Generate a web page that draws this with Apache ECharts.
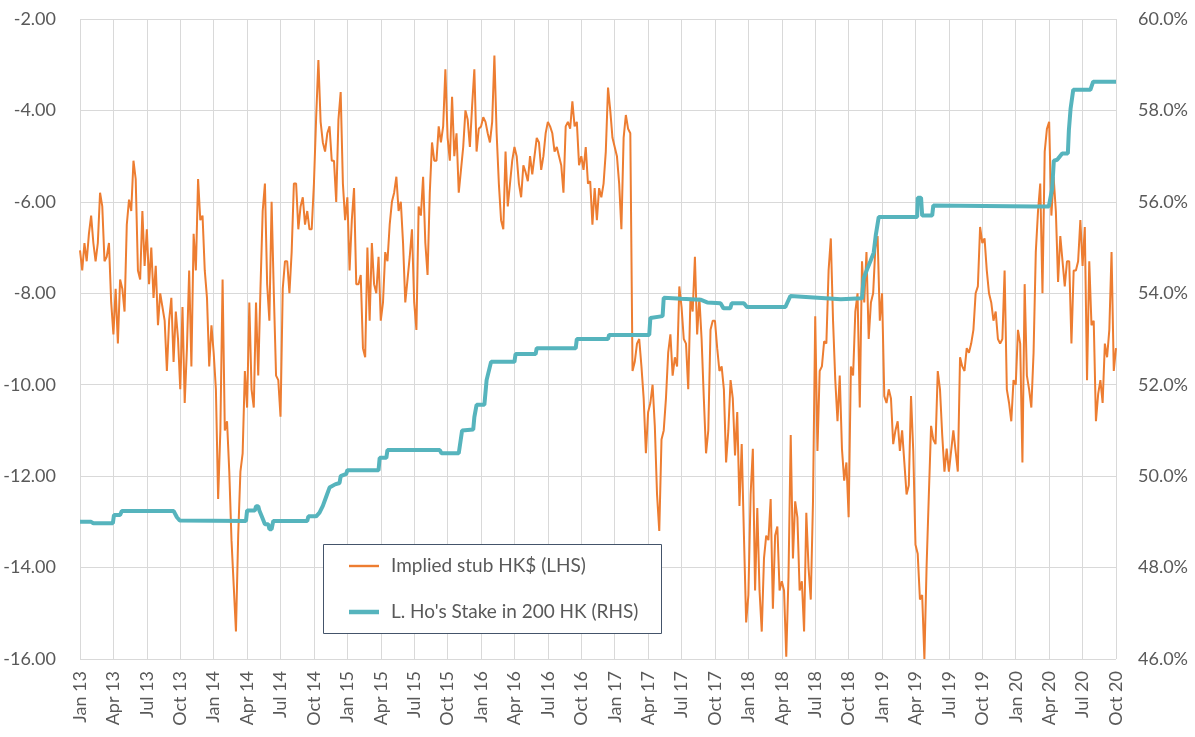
<!DOCTYPE html>
<html>
<head>
<meta charset="utf-8">
<script src="https://cdn.jsdelivr.net/npm/echarts@6/dist/echarts.min.js"></script>
<style>
html,body{margin:0;padding:0;background:#fff;}
#chart{width:1195px;height:737px;}
</style>
</head>
<body>
<div id="chart"></div>
<script>
// Month index 0 = Jan 2013; axis runs to month 93 = Oct 2020
var monthNames = ['Jan', 'Apr', 'Jul', 'Oct'];
var axisStartYear = 13;

// Implied stub HK$ (LHS), one reading every 0.2 month starting Jan 13
var stubStepMonths = 0.2;
var stubValues = [
-7.06,-7.5,-6.9,-7.3,-6.7,-6.3,-6.9,-7.3,-6.9,-5.8,-6.1,-7.3,-7.2,-6.9,-8.2,-8.9,-7.9,-9.1,-7.7,-7.9,
-8.4,-6.5,-5.95,-6.2,-5.1,-5.5,-7.5,-7.7,-6.2,-7.4,-6.6,-7.8,-7.0,-8.1,-7.4,-8.7,-8.0,-8.3,-8.6,-9.7,
-8.6,-8.1,-9.5,-8.4,-9.0,-10.1,-8.3,-10.4,-9.2,-7.5,-9.6,-6.7,-7.5,-5.5,-6.4,-6.3,-7.5,-8.1,-9.6,-8.7,
-9.3,-10.1,-12.5,-11.0,-7.7,-11.0,-10.8,-11.9,-13.4,-14.4,-15.4,-13.3,-11.9,-11.5,-9.7,-10.5,-8.2,-10.1,-10.5,-8.2,
-9.8,-7.9,-6.2,-5.6,-7.8,-8.6,-6.0,-8.0,-9.8,-9.9,-10.7,-7.9,-7.3,-7.3,-8.0,-7.1,-5.6,-5.6,-6.6,-6.1,
-5.9,-6.5,-6.2,-6.6,-6.6,-5.6,-4.15,-2.9,-4.25,-4.7,-4.9,-4.5,-4.35,-5.1,-5.1,-6.0,-4.2,-3.6,-5.6,-6.4,
-5.9,-7.5,-6.4,-5.7,-7.8,-7.8,-7.6,-9.2,-9.4,-7.0,-8.6,-6.9,-7.8,-8.0,-7.2,-8.6,-8.2,-7.1,-7.3,-6.5,
-6.0,-5.8,-5.45,-6.2,-6.0,-6.9,-8.2,-7.7,-7.2,-6.6,-8.2,-8.8,-6.1,-6.3,-5.45,-6.9,-7.6,-5.8,-4.7,-5.1,
-5.1,-4.35,-4.7,-4.35,-3.1,-4.6,-5.1,-3.7,-5.0,-4.5,-5.8,-5.3,-4.8,-4.0,-4.2,-4.8,-3.9,-3.1,-4.9,-4.4,
-4.35,-4.15,-4.25,-4.5,-4.7,-4.25,-2.8,-4.5,-5.6,-6.4,-6.6,-4.9,-6.1,-5.6,-5.1,-4.8,-5.0,-5.6,-5.9,-5.2,
-5.35,-5.55,-5.0,-5.4,-5.0,-4.6,-4.7,-5.3,-5.0,-4.5,-4.25,-4.35,-4.5,-4.9,-4.8,-5.0,-5.2,-5.8,-4.35,-4.25,
-4.4,-3.8,-4.35,-4.25,-5.2,-5.0,-5.3,-4.8,-5.6,-5.55,-6.5,-5.7,-6.4,-5.7,-5.9,-5.6,-4.9,-3.5,-4.0,-4.6,
-4.8,-5.0,-5.6,-6.6,-4.6,-4.1,-4.4,-4.5,-9.7,-9.5,-9.1,-9.0,-9.6,-10.3,-11.5,-10.6,-10.4,-10.0,-10.9,-12.4,
-13.2,-11.2,-11.0,-10.3,-9.3,-8.9,-9.8,-9.4,-9.6,-7.85,-8.3,-9.0,-9.1,-10.1,-8.1,-8.4,-7.2,-8.9,-8.1,-9.0,
-10.3,-11.5,-11.0,-8.8,-8.6,-8.6,-9.2,-9.7,-9.6,-10.1,-11.7,-11.0,-9.9,-10.3,-11.55,-10.6,-12.65,-11.3,-13.3,-15.2,
-14.6,-12.4,-11.4,-14.5,-12.7,-14.5,-15.4,-13.8,-13.3,-13.4,-12.5,-14.9,-13.3,-13.1,-14.5,-14.3,-14.5,-15.95,-14.2,-11.1,
-13.8,-12.55,-12.9,-14.5,-14.3,-15.4,-12.8,-14.0,-14.7,-12.55,-8.5,-11.45,-9.7,-9.6,-9.05,-9.1,-7.5,-6.8,-8.6,-9.9,
-10.8,-9.8,-11.4,-12.1,-11.7,-12.9,-9.6,-9.8,-8.4,-8.0,-10.5,-7.3,-8.2,-7.1,-9.0,-8.2,-8.0,-7.0,-6.75,-8.6,
-8.0,-10.25,-10.4,-10.1,-10.3,-11.3,-11.0,-10.8,-11.45,-11.0,-11.7,-12.4,-12.2,-10.25,-11.45,-13.5,-13.7,-14.7,-14.6,-16.0,
-13.95,-12.4,-10.9,-11.2,-11.3,-9.7,-10.1,-11.1,-11.9,-11.4,-11.9,-11.45,-11.0,-11.45,-11.9,-9.4,-9.6,-9.7,-9.2,-9.3,
-9.1,-8.8,-8.0,-7.85,-6.55,-6.9,-6.8,-7.5,-8.0,-8.2,-8.6,-8.4,-9.0,-9.1,-9.0,-7.5,-10.1,-10.4,-10.8,-9.9,
-10.0,-8.8,-9.1,-11.7,-7.8,-9.8,-10.1,-10.5,-9.3,-7.1,-6.2,-5.6,-8.0,-4.9,-4.4,-4.25,-6.3,-5.45,-6.2,-7.75,
-6.75,-7.3,-7.85,-7.3,-7.3,-9.1,-7.5,-7.5,-7.3,-6.4,-7.4,-6.55,-9.9,-7.3,-8.7,-8.6,-10.8,-10.2,-9.9,-10.4,
-9.1,-9.4,-8.8,-7.1,-9.7,-9.2
];

// L. Ho's Stake in 200 HK (RHS), [month index, stake %]
var stakePoints = [
[0,49.0],[1.0,49.0],[1.2,48.97],[2.95,48.97],[3.05,49.15],[3.6,49.15],[3.75,49.24],[8.4,49.24],[8.7,49.1],[8.95,49.03],
[14.9,49.02],[15.0,49.25],[15.7,49.25],[15.8,49.34],[16.0,49.34],[16.1,49.25],[16.35,49.1],[16.6,48.95],[16.9,48.95],[17.0,48.84],
[17.2,48.84],[17.35,49.02],[20.4,49.02],[20.5,49.12],[21.2,49.12],[21.5,49.2],[21.8,49.35],[22.1,49.55],[22.4,49.75],[22.9,49.82],
[23.3,49.85],[23.4,50.0],[23.9,50.05],[24.0,50.13],[26.8,50.13],[26.9,50.4],[27.5,50.4],[27.6,50.57],[32.3,50.57],[32.45,50.5],
[34.0,50.5],[34.3,51.0],[35.3,51.02],[35.4,51.29],[35.6,51.56],[36.3,51.56],[36.5,52.1],[36.9,52.5],[39.0,52.5],[39.1,52.67],
[40.9,52.67],[41.0,52.8],[44.5,52.8],[44.6,53.0],[47.4,53.0],[47.5,53.09],[51.1,53.09],[51.2,53.46],[52.3,53.5],[52.4,53.9],
[54.0,53.88],[55.7,53.86],[56.3,53.8],[57.5,53.78],[57.77,53.67],[58.37,53.67],[58.5,53.78],[59.6,53.78],[59.87,53.7],[63.32,53.7],
[63.77,53.94],[65.86,53.91],[68.3,53.87],[70.2,53.89],[70.35,54.33],[70.65,54.52],[70.95,54.7],[71.25,54.89],[71.43,55.26],[71.7,55.67],
[75.15,55.67],[75.2,56.09],[75.5,56.09],[75.6,55.7],[76.5,55.7],[76.6,55.92],[85.77,55.9],[86.97,55.9],[87.27,56.29],[87.42,56.9],
[87.72,56.92],[88.17,57.06],[88.68,57.06],[88.77,57.57],[88.92,58.03],[89.16,58.45],[90.7,58.45],[90.95,58.63],[93.0,58.63]
];

var leftTicks = {min: -16, max: -2, step: 2};
var rightTicks = {min: 46, max: 60, step: 2};
var monthTicks = {min: 0, max: 93, step: 3};

var stubData = stubValues.map(function (v, i) { return [+(i * stubStepMonths).toFixed(2), v]; });

function monthLabel(m) {
  var q = Math.round(m / 3) % 4;
  var yr = axisStartYear + Math.floor(Math.round(m) / 12);
  return monthNames[q] + ' ' + yr;
}

var FONT = 'Lato';
var LABEL = '#595959';
var GRID = '#D9D9D9';
var ORANGE = '#ED7D31';
var TEAL = '#56B4BD';
var STUB_NAME = 'Implied stub HK$ (LHS)';
var STAKE_NAME = "L. Ho's Stake in 200 HK (RHS)";

var chart = echarts.init(document.getElementById('chart'), null, {renderer: 'canvas'});
chart.setOption({
  animation: false,
  backgroundColor: '#ffffff',
  grid: {left: 80, right: 79, top: 19, bottom: 78},
  xAxis: {
    type: 'value',
    min: monthTicks.min, max: monthTicks.max, interval: monthTicks.step,
    axisLine: {show: false},
    axisTick: {show: false},
    splitLine: {show: true, lineStyle: {color: GRID, width: 1}},
    axisLabel: {
      rotate: 90, margin: 12, color: LABEL, fontFamily: FONT, fontSize: 18,
      formatter: function (v) { return monthLabel(v); }
    }
  },
  yAxis: [{
    type: 'value', position: 'left',
    min: leftTicks.min, max: leftTicks.max, interval: leftTicks.step,
    axisLine: {show: false}, axisTick: {show: false},
    splitLine: {show: true, lineStyle: {color: GRID, width: 1}},
    axisLabel: {margin: 24, color: LABEL, fontFamily: FONT, fontSize: 18,
      formatter: function (v) { return v.toFixed(2); }}
  }, {
    type: 'value', position: 'right',
    min: rightTicks.min, max: rightTicks.max, interval: rightTicks.step,
    axisLine: {show: false}, axisTick: {show: false},
    splitLine: {show: false},
    axisLabel: {margin: 22, color: LABEL, fontFamily: FONT, fontSize: 18,
      formatter: function (v) { return v.toFixed(1) + '%'; }}
  }],
  legend: {
    orient: 'vertical', left: 349, top: 556,
    itemWidth: 30, itemHeight: 14, itemGap: 26, padding: 0, z: 20,
    symbolKeepAspect: true,
    data: [
      {name: STUB_NAME, icon: 'path://M0,0 L30,0 L30,2.4 L0,2.4 Z', itemStyle: {color: ORANGE}},
      {name: STAKE_NAME, icon: 'path://M0,0 L30,0 L30,4.5 L0,4.5 Z', itemStyle: {color: TEAL}}
    ],
    textStyle: {color: LABEL, fontFamily: FONT, fontSize: 19, lineHeight: 20, padding: [0, 0, 0, 7]}
  },
  graphic: {elements: [{
    type: 'rect', z: 15,
    shape: {x: 323.5, y: 544.5, width: 338, height: 89},
    style: {fill: '#ffffff', stroke: '#44546A', lineWidth: 1}
  }]},
  series: [{
    name: STUB_NAME, type: 'line', yAxisIndex: 0,
    data: stubData, showSymbol: false, symbol: 'none', z: 2,
    lineStyle: {color: ORANGE, width: 2}, itemStyle: {color: ORANGE}
  }, {
    name: STAKE_NAME, type: 'line', yAxisIndex: 1,
    data: stakePoints, showSymbol: false, symbol: 'none', z: 3,
    lineStyle: {color: TEAL, width: 4}, itemStyle: {color: TEAL}
  }]
});
</script>
</body>
</html>
